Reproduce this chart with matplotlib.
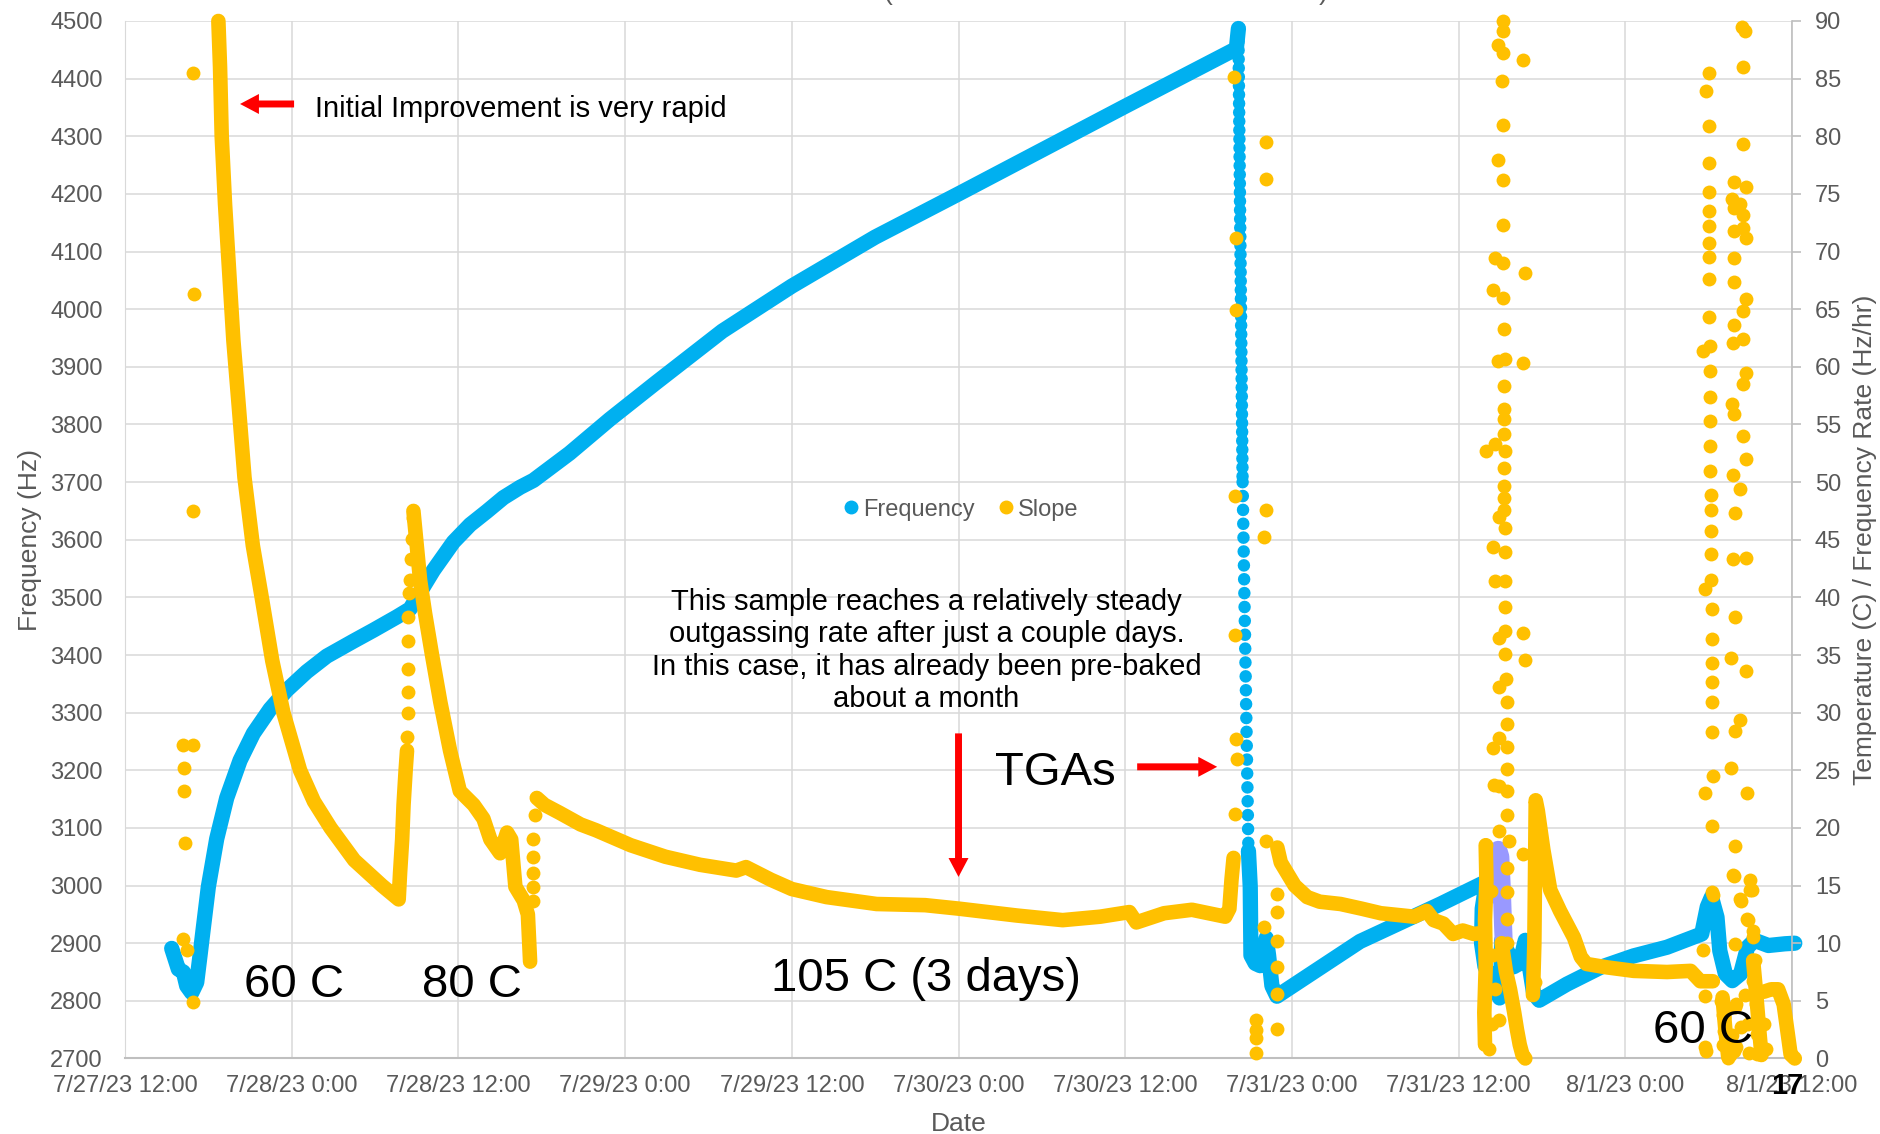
import pandas as pd
import matplotlib
matplotlib.use("Agg")
import matplotlib.pyplot as plt
from matplotlib.lines import Line2D
from matplotlib.ticker import FuncFormatter, MultipleLocator

plt.rcParams["font.family"] = ["Liberation Sans", "DejaVu Sans"]

BLUE = "#00B0F0"
GOLD = "#FFC000"
LAVENDER = "#9999FF"
GRAY = "#595959"

start = pd.Timestamp("2023-07-27 12:00")

# ---- Frequency (Hz), hours since start ----
freq_t = [3.36, 3.6, 3.84, 4.2, 4.44, 4.8, 5.16, 5.4, 5.64, 6.0, 6.6, 7.32, 8.28,
          9.24, 10.44, 11.64, 13.08, 14.52, 16.44, 17.88, 19.56, 20.52, 21.24, 22.2,
          23.64, 24.84, 26.04, 27.24, 28.44, 29.4, 32.0, 34.9, 38.2, 43.0,
          48.0, 54.0, 60.0, 66.0, 72.0, 76.0, 80.0, 80.15]
freq_hz = [2891, 2873, 2855, 2850, 2826, 2814, 2832, 2879, 2927, 2998, 3081, 3152, 3217,
           3264, 3306, 3339, 3371, 3398, 3424, 3443, 3466, 3480, 3509, 3547,
           3596, 3626, 3649, 3673, 3691, 3703, 3750, 3809, 3872, 3962,
           4040, 4125, 4200, 4276, 4352, 4402, 4452, 4487]

# fast fall during the TGAs (readings spread apart)
drop_fast_t = [80.15, 80.45]
drop_fast_hz = [4480, 3700]
drop_slow_t = [80.45, 80.87]
drop_slow_hz = [3700, 3060]

freq2_t = [80.87, 81.0, 81.05, 81.36, 81.72, 81.96, 82.15, 82.32, 82.56, 82.92, 88.9,
           94.7, 98.0, 97.7, 97.65, 97.9, 98.4, 98.95, 99.05, 99.1, 99.6, 99.95, 100.4,
           100.8, 101.1, 101.4, 101.8, 103.8, 106.2, 108.6, 111.0, 113.5, 113.9, 114.2,
           114.6, 114.8, 115.2, 115.7, 116.3, 116.8, 117.3, 118.3, 119.5, 120.2]
freq2_hz = [3060, 2998, 2879, 2865, 2861, 2885, 2909, 2879, 2826, 2808, 2903,
            2968, 3007, 2960, 2900, 2859, 2836, 2805, 2850, 2905, 2882, 2859, 2865,
            2905, 2859, 2813, 2801, 2829, 2858, 2878, 2893, 2916, 2963, 2980,
            2945, 2887, 2847, 2835, 2847, 2893, 2905, 2896, 2899, 2900]

purple_t = [98.5, 98.7, 98.85, 99.0, 99.1, 99.2, 99.25]
purple_hz = [2985, 3045, 3062, 3050, 3000, 2930, 2900]

# ---- Slope (Hz/hr), right axis ----
slope60_t = [6.72, 6.84, 6.96, 7.2, 7.5, 7.8, 8.2, 8.6, 9.2, 9.84, 10.6, 11.4,
             12.6, 13.6, 14.8, 16.5, 18.5, 19.3, 19.7, 19.8, 19.95,
             20.05, 20.2, 20.3]
slope60_v = [90, 86, 80, 74.1, 68.2, 62.3, 56.4, 50.4, 44.5, 40.0, 34.5, 30.0,
             25.0, 22.3, 20.0, 17.2, 15.0, 14.2, 13.8, 16.1, 19.0,
             22.0, 25.0, 26.7]

slope80_t = [20.76, 21.0, 21.24, 21.6, 22.1, 22.7, 23.4, 24.1, 25.1, 25.8, 26.3,
             27.0, 27.5, 27.8, 28.1, 28.7, 29.0, 29.16]
slope80_v = [47.5, 44.5, 41.5, 38.6, 35.0, 30.9, 26.7, 23.2, 22.0, 20.8, 19.0,
             17.8, 19.6, 19.0, 14.9, 13.7, 12.5, 8.4]

slope105_t = [29.64, 30.2, 31.3, 32.8, 33.9, 36.4, 38.9, 41.4, 44.0, 44.7, 46.5,
              48.0, 50.5, 54.1, 57.6, 60.0, 64.2, 67.5, 70.2, 72.3, 72.8, 74.8,
              76.8, 78.8, 79.2, 79.5, 79.65, 79.8]
slope105_v = [22.6, 22.0, 21.3, 20.3, 19.8, 18.5, 17.5, 16.8, 16.3, 16.6, 15.5,
              14.7, 14.0, 13.4, 13.3, 13.0, 12.4, 12.0, 12.3, 12.7, 11.8, 12.6,
              12.9, 12.4, 12.3, 13.0, 15.5, 17.4]

slope_post_t = [82.95, 83.2, 83.6, 84.2, 85.1, 86.0, 87.5, 89.0, 90.4, 92.0, 92.8,
                93.7, 94.2, 94.9, 95.6, 96.3, 97.1, 97.8]
slope_post_v = [18.3, 17.0, 16.2, 15.0, 14.0, 13.6, 13.4, 13.0, 12.6, 12.4, 12.3,
                12.8, 12.0, 11.7, 10.8, 11.1, 10.8, 10.9]

slope_colA_t = [97.95, 98.0, 97.9, 97.95, 97.85, 97.9]
slope_colA_v = [18.5, 15.5, 12.0, 8.0, 4.0, 1.2]
slope_colB_t = [99.1, 99.4, 99.7, 100.0, 100.2, 100.4, 100.6, 100.8]
slope_colB_v = [10.0, 7.6, 6.0, 4.0, 2.5, 1.2, 0.3, 0.0]

slope_spike_t = [101.35, 101.45, 101.5, 101.55, 101.7, 102.1, 102.6, 103.3, 104.3,
                 104.8, 105.2, 106.7, 108.6, 111.0, 112.7, 113.4, 114.3]
slope_spike_v = [5.5, 9.9, 16.0, 22.4, 21.5, 18.1, 14.6, 12.8, 10.5, 8.8, 8.2, 7.9,
                 7.6, 7.5, 7.6, 6.7, 6.7]

slope_lowA_t = [115.0, 115.2, 115.4]
slope_lowA_v = [5.3, 2.5, 0.2]
slope_lowB_t = [117.2, 117.4, 117.6, 117.8]
slope_lowB_v = [8.5, 5.9, 3.0, 0.3]
slope_end_t = [118.0, 118.5, 119.0, 119.4, 119.7, 119.9, 120.2]
slope_end_v = [5.8, 6.0, 6.0, 4.7, 2.1, 0.35, 0.0]

# individual slope readings
pts_start_t = [4.92, 4.97, 4.92, 4.2, 4.92, 4.27, 4.25, 4.32, 4.2, 4.44, 4.87]
pts_start_v = [85.5, 66.3, 47.5, 27.2, 27.2, 25.2, 23.2, 18.7, 10.4, 9.4, 4.9]

pts_rise80_t = [20.33, 20.4, 20.4, 20.4, 20.4, 20.4, 20.47, 20.52, 20.57, 20.64, 20.71]
pts_rise80_v = [27.9, 30.0, 31.8, 33.8, 36.2, 38.3, 40.4, 41.5, 43.3, 45.1, 46.9]

pts_rise105_t = [29.4, 29.4, 29.4, 29.4, 29.4, 29.5]
pts_rise105_v = [13.7, 14.9, 16.1, 17.5, 19.0, 21.1]

pts_tga_t = [79.8, 82.1, 82.1, 80.0, 80.0, 79.9, 82.1, 82.0, 79.9, 79.95, 80.05,
             79.9, 82.1, 82.0, 81.45, 81.45, 81.45, 81.4, 82.95, 82.95, 82.95, 82.9,
             82.9, 82.9]
pts_tga_v = [85.1, 79.5, 76.3, 71.2, 64.9, 48.8, 47.6, 45.2, 36.7, 27.7, 26.0,
             21.2, 18.9, 11.4, 3.3, 1.8, 0.5, 2.5, 14.3, 12.7, 10.2, 7.9,
             5.6, 2.6]

pts_c1_t = [99.2, 99.2, 98.8, 99.2, 100.6, 99.15, 99.2, 98.8, 99.2, 99.2, 98.6, 99.2,
            100.8, 98.5, 99.2, 99.25, 98.8, 99.35, 100.6, 99.25, 99.25, 99.25, 99.25,
            98.0, 98.6, 99.35, 99.3, 99.3, 99.3, 99.3, 98.9, 99.35, 98.5, 99.35, 98.6,
            99.35, 99.35, 99.35, 98.9, 100.6, 99.35, 100.8, 99.4, 98.9, 99.45, 99.45,
            98.9, 98.5, 99.45, 99.45, 98.9, 99.45, 99.45, 98.9, 99.6, 98.0, 100.6,
            99.45, 99.45, 99.45, 99.5, 98.55, 98.9, 98.3, 98.5, 98.6, 98.4, 98.2, 101.5]
pts_c1_v = [90.0, 89.1, 87.9, 87.2, 86.6, 84.8, 81.0, 77.9, 76.2, 72.3, 69.4, 69.0,
            68.1, 66.7, 66.0, 63.3, 60.5, 60.7, 60.3, 58.3, 56.3, 55.5, 54.2,
            52.7, 53.3, 52.7, 51.2, 49.7, 48.6, 47.6, 47.0, 46.0, 44.4, 43.9, 41.4,
            41.4, 39.2, 37.1, 36.5, 36.9, 35.1, 34.6, 32.9, 32.2, 30.9, 29.0,
            27.8, 26.9, 27.0, 25.1, 23.6, 23.2, 21.1, 19.7, 18.9, 18.5, 17.7,
            16.5, 14.4, 12.1, 10.0, 23.75, 3.3, 14.5, 9.0, 6.0, 3.0, 0.8, 6.6]

pts_c2_t = [114.0, 113.8, 114.0, 114.0, 114.0, 114.06, 114.06, 114.06, 114.06, 114.06,
            114.06, 114.1, 113.6, 114.1, 114.1, 114.1, 114.1, 114.1, 114.16, 114.16,
            114.16, 114.16, 114.16, 113.75, 114.23, 114.23, 114.23, 114.23, 114.23,
            114.23, 114.3, 113.75, 114.23, 114.23, 113.6, 113.75, 113.75,
            116.4, 116.6, 116.5, 116.5, 115.8, 116.7, 115.67, 116.27, 115.8, 116.5,
            115.8, 116.5, 116.67, 115.83, 115.8, 116.67, 116.5, 115.83, 115.74, 116.5,
            116.7, 116.5, 115.67, 115.83, 116.5, 116.7, 115.74, 116.27, 115.9, 115.74,
            116.7, 115.9, 115.6, 116.7, 116.27, 115.9, 115.6, 116.74, 115.9, 115.74,
            116.27, 117.0, 117.0, 116.74, 117.2,
            113.8, 114.3, 115.8, 115.9, 116.3, 117.1, 116.8, 117.2, 117.3, 117.2,
            117.4, 117.5, 117.5, 116.0, 116.3, 115.8, 115.1, 115.0, 115.4,
            114.9, 115.0, 115.1, 115.3, 115.5, 115.7, 115.9, 116.0, 116.6, 116.8,
            116.9, 117.8, 118.0, 118.1]
pts_c2_v = [85.5, 83.9, 80.9, 77.7, 75.2, 73.5, 72.2, 70.7, 69.5, 67.6,
            64.3, 61.8, 61.4, 59.6, 57.4, 55.3, 53.1, 51.0, 48.9, 47.6,
            45.8, 43.8, 41.5, 40.7, 39.0, 36.4, 34.3, 32.7, 30.9,
            28.3, 24.5, 23.0, 20.2, 14.4, 9.4, 5.4, 1.0,
            89.5, 89.1, 86.0, 79.3, 76.0, 75.6, 74.6, 74.1, 73.8, 73.2,
            71.8, 72.0, 71.2, 69.4, 67.4, 65.9, 64.8, 63.6, 62.1, 62.4,
            59.5, 58.5, 56.8, 55.9, 54.0, 52.0, 50.6, 49.4, 47.3, 43.3,
            43.4, 38.3, 34.7, 33.6, 29.4, 28.4, 25.2, 23.0, 18.4, 15.9,
            13.8, 15.5, 14.6, 12.1, 11.1,
            0.65, 14.2, 15.8, 9.9, 13.7, 14.6, 12.0, 10.5, 8.5, 6.7,
            4.7, 2.1, 0.4, 4.7, 2.7, 0.65, 3.6, 1.2, 0.06,
            5.0, 3.8, 2.4, 1.0, 0.3, 2.0, 4.5, 1.0, 5.5, 3.0,
            0.5, 5.8, 3.0, 0.8]


def trace(axis, t, y, color, lw=10.5, z=3):
    axis.plot(t, y, color=color, lw=lw, solid_capstyle="round",
              solid_joinstyle="round", zorder=z, clip_on=False)


def dots(axis, t, y, color, size=100, z=4):
    axis.scatter(t, y, s=size, color=color, linewidths=0, zorder=z, clip_on=False)


def dotted(axis, t, y, color, gap, lw=9.0, z=3):
    axis.plot(t, y, color=color, lw=lw, linestyle=(0, (0.01, gap)),
              dash_capstyle="round", zorder=z, clip_on=False)


def date_label(x, pos):
    d = start + pd.Timedelta(hours=x)
    return f"{d.month}/{d.day}/{d:%y} {d.hour}:{d:%M}"


fig = plt.figure(figsize=(18.8, 11.34), dpi=100)
ax = fig.add_axes([0.0665, 0.0666, 0.8867, 0.9149])
ax2 = ax.twinx()

ax.set_xlim(0, 120)
ax.set_ylim(2700, 4500)
ax2.set_ylim(0, 90)
ax.xaxis.set_major_locator(MultipleLocator(12))
ax.xaxis.set_major_formatter(FuncFormatter(date_label))
ax.yaxis.set_major_locator(MultipleLocator(100))
ax2.yaxis.set_major_locator(MultipleLocator(5))

ax.grid(True, color="#D9D9D9", lw=1.1)
ax.set_axisbelow(True)
for s in ("top", "right"):
    ax.spines[s].set_visible(False)
for s in ("top", "left", "bottom"):
    ax2.spines[s].set_visible(False)
ax.spines["left"].set_color("#D9D9D9")
ax.spines["bottom"].set_color("#BFBFBF")
ax.spines["bottom"].set_linewidth(1.5)
ax2.spines["right"].set_color("#BFBFBF")
ax2.spines["right"].set_linewidth(1.2)

ax.tick_params(axis="x", length=0, pad=12, labelsize=17, labelcolor=GRAY)
ax.tick_params(axis="y", length=0, pad=16, labelsize=17, labelcolor=GRAY)
ax2.tick_params(axis="y", length=6.5, width=1.2, color="#BFBFBF", pad=10,
                labelsize=17, labelcolor=GRAY)

ax.set_xlabel("Date", fontsize=19, color=GRAY)
ax.xaxis.set_label_coords(0.5, -0.052)
ax.set_ylabel("Frequency (Hz)", fontsize=19, color=GRAY)
ax.yaxis.set_label_coords(-0.050, 0.5)
ax2.set_ylabel("Temperature (C) / Frequency Rate (Hz/hr)", fontsize=19, color=GRAY)
ax2.yaxis.set_label_coords(1.0365, 0.5)

# frequency
trace(ax, freq_t, freq_hz, BLUE, lw=11)
dotted(ax, drop_fast_t, drop_fast_hz, BLUE, gap=0.7)
dotted(ax, drop_slow_t, drop_slow_hz, BLUE, gap=1.1)
trace(ax, freq2_t, freq2_hz, BLUE, lw=11)
trace(ax, purple_t, purple_hz, LAVENDER, lw=13, z=4)

# slope
for t, v in [(slope60_t, slope60_v), (slope80_t, slope80_v),
             (slope105_t, slope105_v), (slope_post_t, slope_post_v),
             (slope_colA_t, slope_colA_v), (slope_colB_t, slope_colB_v),
             (slope_spike_t, slope_spike_v), (slope_lowA_t, slope_lowA_v),
             (slope_lowB_t, slope_lowB_v), (slope_end_t, slope_end_v)]:
    trace(ax2, t, v, GOLD)
for t, v in [(pts_start_t, pts_start_v), (pts_rise80_t, pts_rise80_v),
             (pts_rise105_t, pts_rise105_v), (pts_tga_t, pts_tga_v),
             (pts_c1_t, pts_c1_v), (pts_c2_t, pts_c2_v)]:
    dots(ax2, t, v, GOLD)

# annotations (placed in Hz coordinates, drawn above both series)
big = dict(fontsize=34, color="black", ha="left", va="baseline", zorder=10,
           transform=ax.transData)
ax2.text(8.57, 2807, "60 C", **big)
ax2.text(21.36, 2807, "80 C", **big)
ax2.text(46.5, 2817, "105 C (3 days)", **big)
ax2.text(110.0, 2726, "60 C", **big)
ax2.text(62.6, 3175, "TGAs", **big)

ax.text(13.66, 4334, "Initial Improvement is very rapid", fontsize=21,
        color="black", ha="left", va="baseline")
ax.text(57.7, 3408,
        "This sample reaches a relatively steady\n"
        "outgassing rate after just a couple days.\n"
        "In this case, it has already been pre-baked\n"
        "about a month",
        fontsize=21, color="black", ha="center", va="center", linespacing=1.2)

arrow = dict(arrowstyle="simple,head_length=0.68,head_width=0.72,tail_width=0.25",
             color="red", lw=0, shrinkA=0, shrinkB=0, mutation_scale=20)
ax.annotate("", xy=(8.28, 4356), xytext=(12.17, 4356), arrowprops=arrow)
ax.annotate("", xy=(60.0, 3015), xytext=(60.0, 3264), arrowprops=arrow)
ax.annotate("", xy=(78.62, 3206), xytext=(72.86, 3206), arrowprops=arrow)

ax2.text(119.66, 2653, "17", fontsize=21, fontweight="bold", color="black",
         ha="center", va="center", clip_on=False, zorder=10, transform=ax.transData)

# title sits above the canvas; only the lower ends of its brackets show
fig.text(888 / 1880, 1.0, "(", fontsize=19, color=GRAY, ha="center", va="baseline")
fig.text(1323 / 1880, 1.0, ")", fontsize=19, color=GRAY, ha="center", va="baseline")

handles = [Line2D([0], [0], marker="o", ls="", color=BLUE, markersize=9),
           Line2D([0], [0], marker="o", ls="", color=GOLD, markersize=9)]
ax2.legend(handles, ["Frequency", "Slope"], loc="center",
           bbox_to_anchor=(0.502, 0.529), ncol=2, frameon=False, fontsize=17,
           labelcolor=GRAY, handlelength=0.5, handletextpad=0.25,
           columnspacing=1.1, borderpad=0)

fig.savefig("out.png", dpi=100, facecolor="white")
